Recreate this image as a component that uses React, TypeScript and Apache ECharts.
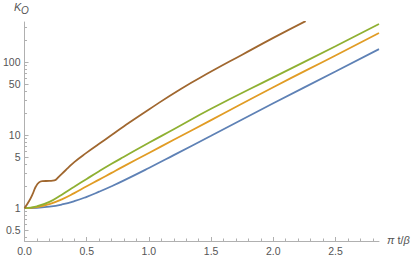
import React, { useEffect, useRef } from "react";
import * as echarts from "echarts";

// ---- data (x = π t/β, y = K_O) ----
const BLUE: [number, number][] = [
  [0, 1], [0.1, 1.0116], [0.2, 1.047], [0.3, 1.122], [0.4, 1.245], [0.5, 1.429],
  [0.6, 1.679], [0.7, 1.995], [0.8, 2.399], [1.0, 3.548], [1.2, 5.309], [1.5, 9.772],
  [2.0, 27.23], [2.5, 74.13], [2.85, 150],
];
const ORANGE: [number, number][] = [
  [0, 1], [0.1, 1.035], [0.2, 1.135], [0.3, 1.318], [0.4, 1.603], [0.5, 1.995],
  [0.6, 2.455], [0.7, 3.041], [0.8, 3.758], [1.0, 5.689], [1.2, 8.61], [1.5, 16.03],
  [2.0, 45.19], [2.5, 123], [2.85, 250],
];
const GREEN: [number, number][] = [
  [0, 1], [0.1, 1.059], [0.2, 1.216], [0.3, 1.53], [0.4, 1.96], [0.5, 2.51],
  [0.6, 3.2], [0.7, 4.04], [0.8, 5.05], [1.0, 7.852], [1.2, 12.02], [1.5, 22.91],
  [2.0, 61.66], [2.5, 164.1], [2.85, 331],
];
const BROWN: [number, number][] = [
  [0, 1], [0.037, 1.25], [0.064, 1.54], [0.09, 1.96], [0.117, 2.25], [0.144, 2.34],
  [0.2, 2.36], [0.24, 2.4], [0.27, 2.63], [0.3, 2.95], [0.35, 3.55], [0.4, 4.27],
  [0.5, 5.75], [0.6, 7.59], [0.7, 10], [0.8, 13.2], [1.0, 22.4], [1.25, 42.2],
  [1.5, 74], [1.75, 126], [2.0, 214], [2.26, 363],
];

const X_MAJOR = [0, 0.5, 1.0, 1.5, 2.0, 2.5];
const X_MINOR = [0.1, 0.2, 0.3, 0.4, 0.6, 0.7, 0.8, 0.9, 1.1, 1.2, 1.3, 1.4, 1.6, 1.7, 1.8, 1.9, 2.1, 2.2, 2.3, 2.4, 2.6, 2.7, 2.8];
const Y_MAJOR = [0.5, 1, 5, 10, 50, 100];
const Y_MINOR = [0.4, 0.6, 0.7, 0.8, 0.9, 2, 3, 4, 6, 7, 8, 9, 20, 30, 40, 60, 70, 80, 90, 200, 300];

const X_MIN = 0;
const X_MAX = 2.85;
const Y_MIN = 0.355;
const Y_MAX = 353;

const COLORS = ["#5E81B5", "#E19C24", "#8FB032", "#A0672F"];

const lg = (v: number) => Math.log10(v);
const toLog = (arr: [number, number][]) => arr.map(([x, y]) => [x, lg(y)]);

export default function App() {
  const ref = useRef<HTMLDivElement>(null);
  useEffect(() => {
    if (!ref.current) return;
    const chart = echarts.init(ref.current, null, { renderer: "svg" });
    const axisColor = "#b0b0b0";
    const labelColor = "#555";
    const font = "Liberation Sans";
    const mkSeries = (data: [number, number][], color: string) => ({
      type: "line",
      data: toLog(data),
      showSymbol: false,
      smooth: 0.5,
      lineStyle: { color, width: 1.8 },
      xAxisIndex: 0,
      yAxisIndex: 0,
    });
    chart.setOption({
      animation: false,
      grid: { left: 22, right: 36, top: 22, bottom: 18, containLabel: false },
      xAxis: [
        {
          type: "value", min: X_MIN, max: X_MAX, position: "bottom",
          axisLine: { show: true, onZero: false, lineStyle: { color: axisColor, width: 1 } },
          axisTick: { show: true, inside: true, length: 4, customValues: X_MAJOR, lineStyle: { color: axisColor } },
          axisLabel: {
            show: true, customValues: X_MAJOR, margin: 4, color: labelColor, fontSize: 10.5, fontFamily: font,
            formatter: (v: number) => v.toFixed(1),
          },
          splitLine: { show: false },
        },
        {
          type: "value", min: X_MIN, max: X_MAX, position: "bottom",
          axisLine: { show: false, onZero: false },
          axisTick: { show: true, inside: true, length: 2.5, customValues: X_MINOR, lineStyle: { color: axisColor } },
          axisLabel: { show: false },
          splitLine: { show: false },
        },
      ],
      yAxis: [
        {
          type: "value", min: lg(Y_MIN), max: lg(Y_MAX), position: "left",
          axisLine: { show: true, onZero: false, lineStyle: { color: axisColor, width: 1 } },
          axisTick: { show: true, inside: true, length: 4, customValues: Y_MAJOR.map(lg), lineStyle: { color: axisColor } },
          axisLabel: {
            show: true, customValues: Y_MAJOR.map(lg), margin: 4, color: labelColor, fontSize: 10.5, fontFamily: font,
            formatter: (v: number) => {
              const r = Math.pow(10, v);
              return String(Math.round(r * 10) / 10);
            },
          },
          splitLine: { show: false },
        },
        {
          type: "value", min: lg(Y_MIN), max: lg(Y_MAX), position: "left",
          axisLine: { show: false, onZero: false },
          axisTick: { show: true, inside: true, length: 2.5, customValues: Y_MINOR.map(lg), lineStyle: { color: axisColor } },
          axisLabel: { show: false },
          splitLine: { show: false },
        },
      ],
      series: [
        mkSeries(BLUE, COLORS[0]),
        mkSeries(ORANGE, COLORS[1]),
        mkSeries(GREEN, COLORS[2]),
        mkSeries(BROWN, COLORS[3]),
      ],
      graphic: [
        {
          type: "text", left: 387, top: 234,
          style: {
            text: "{i|π} t/{i|β}", fill: labelColor, font: `11px ${font}`,
            rich: { i: { fontStyle: "italic", fontSize: 11, fontFamily: font, fill: labelColor } },
          },
        },
        {
          type: "text", left: 14, top: 1,
          style: { text: "K", fill: labelColor, font: `italic 11px ${font}` },
        },
        {
          type: "text", left: 21, top: 5,
          style: { text: "O", fill: labelColor, font: `italic 10px ${font}` },
        },
      ],
    });
    return () => chart.dispose();
  }, []);
  return <div ref={ref} style={{ position: "absolute", left: 0, top: 0, width: 415, height: 259 }} />;
}
